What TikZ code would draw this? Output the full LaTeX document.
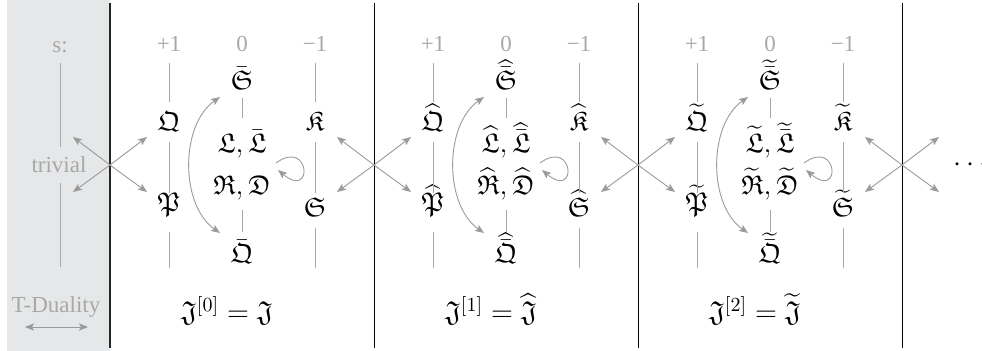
\documentclass[tikz,border=0pt]{standalone}
\usepackage{amsmath,amssymb}
\usepackage{fontspec}
\setmainfont{Liberation Serif}
\usetikzlibrary{arrows.meta}
\definecolor{panel}{HTML}{E6E7E8}
\definecolor{lgray}{HTML}{A8A8A8}
\definecolor{agray}{HTML}{9A9A9A}
\newcommand\noacc[1]{#1}
\begin{document}
\begin{tikzpicture}[x=0.5pt,y=-0.5pt,
  lab/.style={text=lgray,font=\fontsize{11.5}{13}\selectfont,anchor=base,inner sep=0},
  fr/.style={font=\fontsize{13.5}{16}\selectfont,anchor=base,inner sep=0},
  eq/.style={font=\fontsize{14.4}{17}\selectfont,anchor=base,inner sep=0},
  colline/.style={draw=lgray,line width=0.4pt},
  arr/.style={draw=agray,line width=0.45pt,-{Stealth[length=4.5pt,width=3.6pt,inset=1pt]}},
  darr/.style={draw=agray,line width=0.45pt,{Stealth[length=4.5pt,width=3.6pt,inset=1pt]}-{Stealth[length=4.5pt,width=3.6pt,inset=1pt]}},
  sepline/.style={draw=black,line width=0.5pt}]
\useasboundingbox (0,0) rectangle (982,351);
\fill[panel] (7,0) rectangle (110,351);
% left panel
\node[lab] (s) at (60,53) {s:};
\node[lab] (triv) at (59,173) {trivial};
\node[lab] (td) at (56,313) {T-Duality};
\draw[colline] (60,63) -- (60,147);
\draw[colline] (60,183) -- (60,267);
\coordinate (tdl) at (25,327);
\coordinate (tdr) at (88,327);
\draw[darr] (tdl) -- (tdr);
% separators
\draw[draw=black!85,line width=1.3pt] (110,3) -- (110,348);
\foreach \bx in {374,638,902}{\draw[sepline] (\bx,3) -- (\bx,348);}
% X arrows
\foreach \bx in {110,374,638,902}{
  \coordinate (X\bx) at (\bx,165);
  \coordinate (Xul\bx) at (\bx-37,137);
  \coordinate (Xll\bx) at (\bx-37,192);
  \coordinate (Xur\bx) at (\bx+37,137);
  \coordinate (Xlr\bx) at (\bx+37,192);
  \draw[arr] (X\bx) -- (Xul\bx);
  \draw[arr] (X\bx) -- (Xll\bx);
  \draw[arr] (X\bx) -- (Xur\bx);
  \draw[arr] (X\bx) -- (Xlr\bx);
}
% sections
\foreach \i/\A in {0/\noacc,1/\widehat,2/\widetilde}{
  \pgfmathsetmacro\c{242+264*\i}
  \node[lab] (lp\i) at (\c-73,52) {+1};
  \node[lab] (lz\i) at (\c,52) {0};
  \node[lab] (lm\i) at (\c+73,52) {−1};
  \node[fr] (Q\i) at (\c-73,131) {$\A{\mathfrak{Q}}$};
  \node[fr] (P\i) at (\c-73,212) {$\A{\mathfrak{P}}$};
  \node[fr] (Sb\i) at (\c,90) {$\A{\bar{\mathfrak{S}}}$};
  \node[fr] (L\i) at (\c,153) {$\A{\mathfrak{L}},\A{\bar{\mathfrak{L}}}$};
  \node[fr] (R\i) at (\c,195) {$\A{\mathfrak{R}},\A{\mathfrak{D}}$};
  \node[fr] (Qb\i) at (\c,263) {$\A{\bar{\mathfrak{Q}}}$};
  \node[fr] (K\i) at (\c+73,131) {$\A{\mathfrak{K}}$};
  \node[fr] (S\i) at (\c+73,217) {$\A{\mathfrak{S}}$};
  \node[eq] (J\i) at (\c-15,322) {$\mathfrak{J}^{[\i]}=\A{\mathfrak{J}}$};
  % column lines
  \draw[colline] (\c-73,63) -- (\c-73,102);
  \draw[colline] (\c-73,142) -- (\c-73,193);
  \draw[colline] (\c-73,232) -- (\c-73,268);
  \draw[colline] (\c,98) -- (\c,118);
  \draw[colline] (\c,210) -- (\c,232);
  \draw[colline] (\c+73,63) -- (\c+73,102);
  \draw[colline] (\c+73,142) -- (\c+73,193);
  \draw[colline] (\c+73,228) -- (\c+73,268);
  % curved arrow
  \coordinate (ca\i) at (\c-22,97);
  \coordinate (cb\i) at (\c-22,233);
  \draw[darr] (ca\i) .. controls (\c-62,125) and (\c-62,205) .. (cb\i);
  % loop
  \coordinate (la\i) at (\c+34,163);
  \coordinate (lb\i) at (\c+36,170);
  \draw[arr] (la\i) .. controls (\c+68,138) and (\c+72,200) .. (lb\i);
}
\node[font=\fontsize{14.4}{17}\selectfont,anchor=base,inner sep=0] (dots) at (973,172) {$\cdots$};
\end{tikzpicture}
\end{document}
